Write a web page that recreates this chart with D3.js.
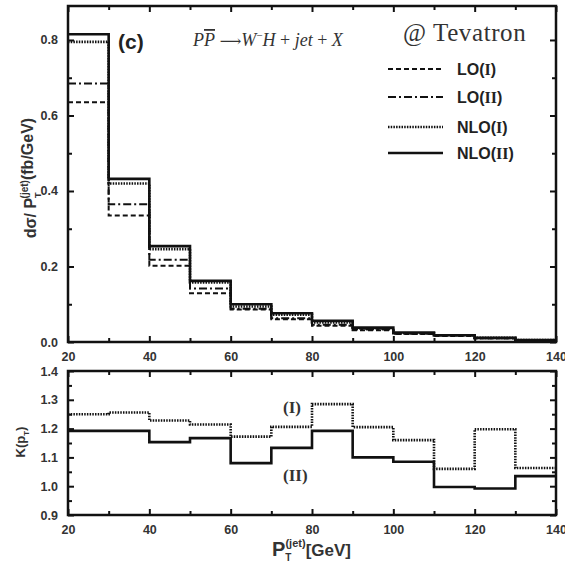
<!DOCTYPE html>
<html><head><meta charset="utf-8">
<script src="https://cdn.jsdelivr.net/npm/d3@7"></script>
<style>
body{margin:0;background:#fff;}
svg{display:block;}
.tick text{font-family:"Liberation Sans",Arial,sans-serif;font-weight:bold;font-size:12.5px;fill:#333;}
</style>
</head><body>
<svg id="c" width="565" height="565"></svg>
<script>
// ---- data ----
const binEdges = [20,30,40,50,60,70,80,90,100,110,120,130,140];
const loI   = [0.635,0.335,0.202,0.129,0.086,0.060,0.043,0.031,0.021,0.016,0.010,0.004];
const loII  = [0.685,0.365,0.218,0.142,0.088,0.063,0.046,0.033,0.022,0.017,0.010,0.0045];
const nloI  = [0.795,0.420,0.246,0.158,0.094,0.072,0.052,0.036,0.023,0.018,0.011,0.005];
const nloII = [0.815,0.432,0.254,0.162,0.100,0.076,0.056,0.038,0.025,0.018,0.011,0.005];
const kI    = [1.250,1.256,1.228,1.214,1.172,1.206,1.285,1.205,1.160,1.060,1.198,1.063];
const kII   = [1.192,1.192,1.153,1.167,1.080,1.133,1.192,1.100,1.085,0.997,0.992,1.035];
const xMajor = [20,40,60,80,100,120,140];
const xMinor = [30,50,70,90,110,130];
const yTopMajor = [0.0,0.2,0.4,0.6,0.8];
const yTopMinor = [0.1,0.3,0.5,0.7];
const yBotMajor = [0.9,1.0,1.1,1.2,1.3,1.4];
const yBotMinor = [0.95,1.05,1.15,1.25,1.35];
const seriesNames = ["LO(I)","LO(II)","NLO(I)","NLO(II)"];

const svg = d3.select("#c");
const x = d3.scaleLinear([20,140],[68,556]);
const yT = d3.scaleLinear([0,0.89],[342,6]);
const yB = d3.scaleLinear([0.9,1.4],[515,371]);

const styles = [
  {dash:"5,3", w:2},
  {dash:"8,3,2,3", w:2},
  {dash:"1.5,1.2", w:2.6},
  {dash:null, w:2.6}
];

function stepPts(vals){
  const p = vals.map((v,i)=>[binEdges[i],v]);
  p.push([binEdges[binEdges.length-1], vals[vals.length-1]]);
  return p;
}

function drawSeries(vals, yScale, st){
  const line = d3.line().x(d=>x(d[0])).y(d=>yScale(d[1])).curve(d3.curveStepAfter);
  const path = svg.append("path").attr("d", line(stepPts(vals)))
    .attr("fill","none").attr("stroke","#111").attr("stroke-width",st.w);
  if(st.dash) path.attr("stroke-dasharray",st.dash);
}

function drawAxes(yScale, yMaj, yMin, fmt){
  const g = svg.append("g");
  const [y0,y1] = yScale.range();
  g.append("g").attr("transform",`translate(0,${y0})`)
    .call(d3.axisBottom(x).tickValues(xMajor).tickSize(-6).tickPadding(10).tickFormat(d3.format("d")));
  g.append("g").attr("transform",`translate(0,${y0})`)
    .call(d3.axisBottom(x).tickValues(xMinor).tickSize(-4).tickFormat(""));
  g.append("g").attr("transform",`translate(0,${y1})`)
    .call(d3.axisTop(x).tickValues(xMajor).tickSize(-6).tickFormat(""));
  g.append("g").attr("transform",`translate(0,${y1})`)
    .call(d3.axisTop(x).tickValues(xMinor).tickSize(-4).tickFormat(""));
  g.append("g").attr("transform",`translate(${x(20)},0)`)
    .call(d3.axisLeft(yScale).tickValues(yMaj).tickSize(-6).tickPadding(10).tickFormat(fmt));
  g.append("g").attr("transform",`translate(${x(20)},0)`)
    .call(d3.axisLeft(yScale).tickValues(yMin).tickSize(-4).tickFormat(""));
  g.append("g").attr("transform",`translate(${x(140)},0)`)
    .call(d3.axisRight(yScale).tickValues(yMaj).tickSize(-6).tickFormat(""));
  g.append("g").attr("transform",`translate(${x(140)},0)`)
    .call(d3.axisRight(yScale).tickValues(yMin).tickSize(-4).tickFormat(""));
  g.selectAll(".domain").remove();
  g.selectAll(".tick line").attr("stroke","#111").attr("stroke-width",2);
  svg.append("rect").attr("x",x(20)).attr("y",y1).attr("width",x(140)-x(20)).attr("height",y0-y1)
    .attr("fill","none").attr("stroke","#111").attr("stroke-width",2.5);
}

// ---- top panel ----
[loI,loII,nloI,nloII].forEach((s,i)=>drawSeries(s,yT,styles[i]));
drawAxes(yT, yTopMajor, yTopMinor, d3.format(".1f"));

// ---- bottom panel ----
drawSeries(kI, yB, styles[2]);
drawSeries(kII, yB, styles[3]);
drawAxes(yB, yBotMajor, yBotMinor, d3.format(".1f"));

// ---- texts ----
const sans = '"Liberation Sans",Arial,sans-serif';
const serif = '"Liberation Serif","Times New Roman",serif';

svg.append("text").attr("x",118).attr("y",49).attr("font-family",sans).attr("font-weight","bold")
  .attr("font-size",21).attr("fill","#222").text("(c)");

const proc = svg.append("text").attr("x",193).attr("y",46).attr("font-family",serif)
  .attr("font-style","italic").attr("font-size",18).attr("fill","#333").attr("xml:space","preserve");
proc.append("tspan").text("P");
proc.append("tspan").style("text-decoration","overline").text("P");
proc.append("tspan").attr("font-style","normal").attr("font-family",'"DejaVu Serif",serif').attr("font-size",15).text(" \u27F6");
proc.append("tspan").text("W");
proc.append("tspan").attr("font-style","normal").attr("font-size",11).attr("dy",-7).text("\u2212");
proc.append("tspan").attr("dy",7).text("H");
proc.append("tspan").attr("font-style","normal").text(" + ");
proc.append("tspan").text("jet");
proc.append("tspan").attr("font-style","normal").text(" + ");
proc.append("tspan").text("X");

svg.append("text").attr("x",403).attr("y",41).attr("font-family",serif)
  .attr("font-size",25).attr("letter-spacing",0.6).attr("fill","#333")
  .text("@ Tevatron");

const legY = [69,97,127,153];
seriesNames.forEach((n,i)=>{
  const st = styles[i];
  const l = svg.append("line").attr("x1",388).attr("x2",443).attr("y1",legY[i]).attr("y2",legY[i])
    .attr("stroke","#111").attr("stroke-width",st.w);
  if(st.dash) l.attr("stroke-dasharray",st.dash);
  const m = n.match(/^(.*\()(I+)(\))$/);
  const t = svg.append("text").attr("x",457).attr("y",legY[i]+6).attr("font-family",sans)
    .attr("font-weight","bold").attr("font-size",16).attr("fill","#222");
  t.append("tspan").text(m[1]);
  t.append("tspan").attr("font-family",serif).text(m[2]);
  t.append("tspan").text(m[3]);
});

// K labels
svg.append("text").attr("x",283).attr("y",413).attr("font-family",serif).attr("font-weight","bold")
  .attr("font-size",17).attr("fill","#333").text("(I)");
svg.append("text").attr("x",283).attr("y",481).attr("font-family",serif).attr("font-weight","bold")
  .attr("font-size",17).attr("fill","#333").text("(II)");

// y label top
const yl = svg.append("text").attr("transform","translate(36,178) rotate(-90)").attr("text-anchor","middle")
  .attr("font-family",sans).attr("font-weight","bold").attr("font-size",16).attr("fill","#333");
yl.append("tspan").text("d\u03C3/ P");
yl.append("tspan").attr("font-size",9).attr("dy",5).text("T");
yl.append("tspan").attr("font-size",10).attr("dx",-6).attr("dy",-13).text("(jet)");
yl.append("tspan").attr("dy",5).text("(fb/GeV)");

// y label bottom
const kl = svg.append("text").attr("transform","translate(25,442) rotate(-90)").attr("text-anchor","middle")
  .attr("font-family",sans).attr("font-weight","bold").attr("font-size",13).attr("fill","#333");
kl.append("tspan").text("K(p");
kl.append("tspan").attr("font-size",8).attr("dy",4).text("T");
kl.append("tspan").attr("dy",-4).text(")");

// x label
const xl = svg.append("text").attr("x",272).attr("y",556)
  .attr("font-family",sans).attr("font-weight","bold").attr("fill","#333");
xl.append("tspan").attr("font-size",20).text("P");
xl.append("tspan").attr("font-size",10).attr("dy",5).text("T");
xl.append("tspan").attr("font-size",11).attr("dx",-6).attr("dy",-14).text("(jet)");
xl.append("tspan").attr("font-size",17).attr("dy",9).text("[GeV]");
</script>
</body></html>
